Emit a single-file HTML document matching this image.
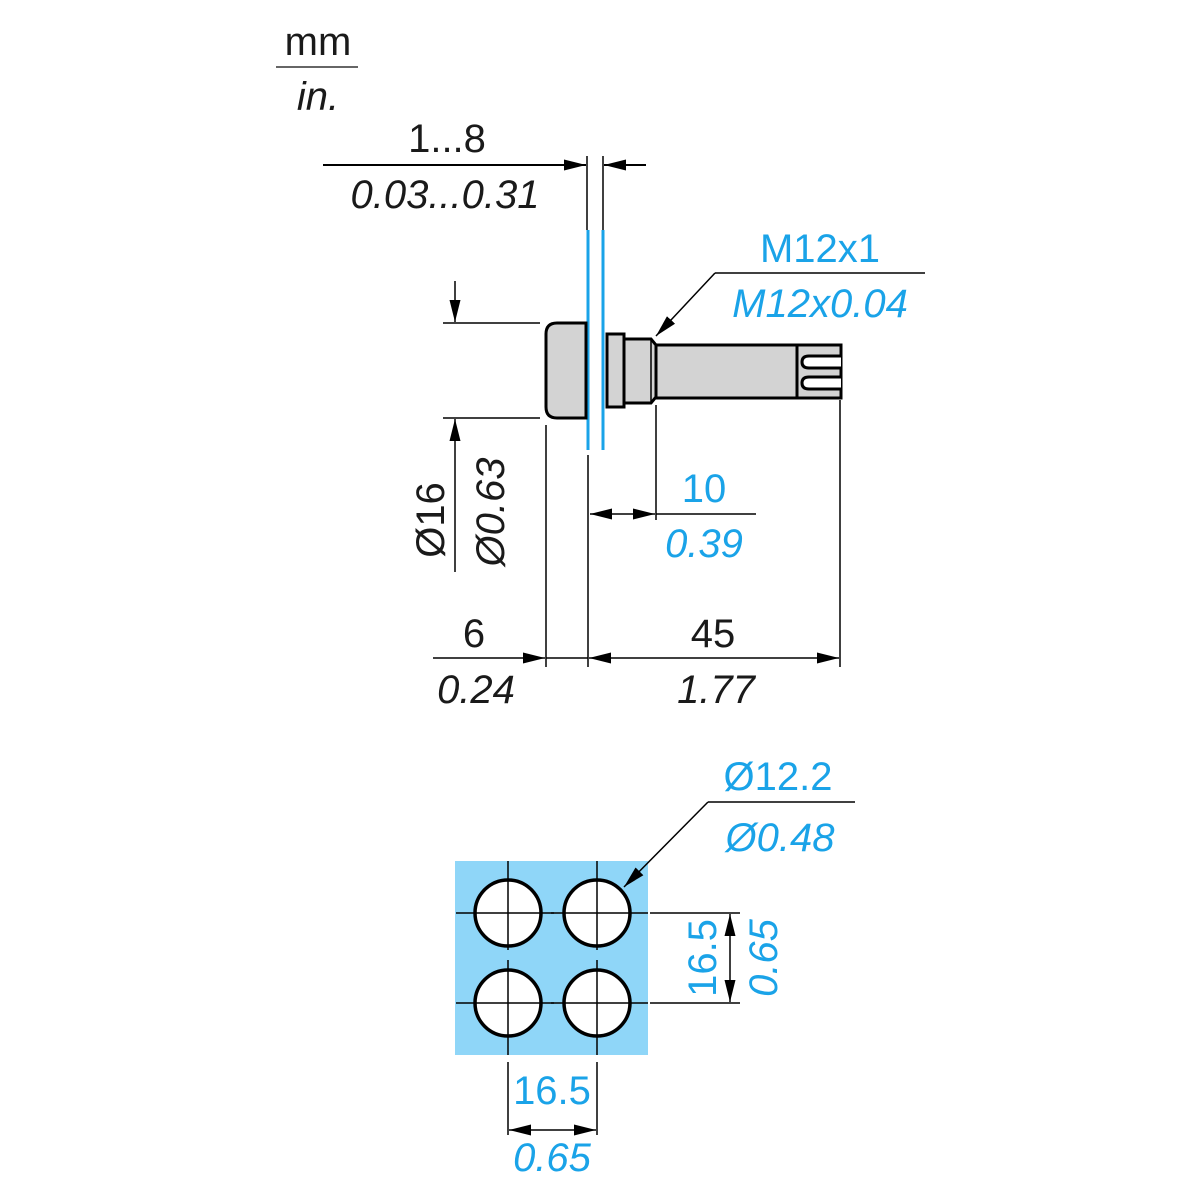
<!DOCTYPE html>
<html><head><meta charset="utf-8"><style>
html,body{margin:0;padding:0;background:#fff;}
svg{display:block;}
text{font-family:"Liberation Sans",Arial,sans-serif;font-size:40px;}
.k{fill:#1a1a1a}.b{fill:#1aa3e8}.i{font-style:italic}
</style></head><body>
<svg width="1200" height="1200" viewBox="0 0 1200 1200" xmlns="http://www.w3.org/2000/svg">
<defs>
<marker id="a" viewBox="0 0 22 11" refX="22" refY="5.5" markerWidth="22" markerHeight="11" markerUnits="userSpaceOnUse" orient="auto"><path d="M0,0L22,5.5L0,11z" fill="#000"/></marker>
</defs>
<text x="318" y="55" text-anchor="middle" class="k">mm</text>
<line x1="276" y1="67" x2="358" y2="67" stroke="#666" stroke-width="2"/>
<text x="318" y="110" text-anchor="middle" class="k i">in.</text>
<text x="447" y="152" text-anchor="middle" class="k">1...8</text>
<text x="445" y="208" text-anchor="middle" class="k i">0.03...0.31</text>
<line x1="323" y1="165" x2="586" y2="165" stroke="#000" stroke-width="2" marker-end="url(#a)"/>
<line x1="646" y1="165" x2="604" y2="165" stroke="#000" stroke-width="2" marker-end="url(#a)"/>
<line x1="587" y1="156" x2="587" y2="230" stroke="#000" stroke-width="1.5"/>
<line x1="603" y1="156" x2="603" y2="230" stroke="#000" stroke-width="1.5"/>
<line x1="588" y1="230" x2="588" y2="450" stroke="#1aa3e8" stroke-width="3"/>
<line x1="603" y1="230" x2="603" y2="450" stroke="#1aa3e8" stroke-width="3"/>
<path d="M586,323 L557,323 Q546,323 546,334 L546,407 Q546,418 557,418 L586,418 Z" fill="#d3d3d3" stroke="#000" stroke-width="3"/>
<rect x="607" y="334" width="17" height="73" fill="#d3d3d3" stroke="#000" stroke-width="3"/>
<path d="M624,339 L651,339 L656,345 L656,397 L651,403 L624,403 Z" fill="#d3d3d3" stroke="#000" stroke-width="3"/>
<line x1="651" y1="339" x2="651" y2="403" stroke="#000" stroke-width="1.5"/>
<rect x="656" y="345" width="185" height="53" fill="#d3d3d3" stroke="#000" stroke-width="3"/>
<line x1="797" y1="345" x2="797" y2="398" stroke="#000" stroke-width="3"/>
<path d="M841,356 L809,356 Q802,356 802,362 Q802,368 809,368 L841,368" fill="#fff" stroke="#000" stroke-width="3"/>
<path d="M841,377 L809,377 Q802,377 802,383 Q802,389 809,389 L841,389" fill="#fff" stroke="#000" stroke-width="3"/>
<text x="820" y="262" text-anchor="middle" class="b">M12x1</text>
<text x="820" y="317" text-anchor="middle" class="b i">M12x0.04</text>
<line x1="715" y1="273" x2="925" y2="273" stroke="#000" stroke-width="1.5"/>
<line x1="715" y1="273" x2="656" y2="336" stroke="#000" stroke-width="1.5" marker-end="url(#a)"/>
<line x1="443" y1="323" x2="540" y2="323" stroke="#000" stroke-width="1.5"/>
<line x1="443" y1="418" x2="540" y2="418" stroke="#000" stroke-width="1.5"/>
<line x1="455" y1="281" x2="455" y2="322" stroke="#000" stroke-width="1.5" marker-end="url(#a)"/>
<line x1="455" y1="572" x2="455" y2="419" stroke="#000" stroke-width="1.5" marker-end="url(#a)"/>
<text transform="translate(444,520) rotate(-90)" text-anchor="middle" class="k">Ø16</text>
<text transform="translate(504,512) rotate(-90)" text-anchor="middle" class="k i">Ø0.63</text>
<line x1="546" y1="425" x2="546" y2="667" stroke="#000" stroke-width="1.5"/>
<line x1="588" y1="455" x2="588" y2="667" stroke="#000" stroke-width="1.5"/>
<line x1="656" y1="405" x2="656" y2="520" stroke="#000" stroke-width="1.5"/>
<line x1="840" y1="400" x2="840" y2="667" stroke="#000" stroke-width="1.5"/>
<line x1="622" y1="514" x2="590" y2="514" stroke="#000" stroke-width="1.5" marker-end="url(#a)"/>
<line x1="622" y1="514" x2="655" y2="514" stroke="#000" stroke-width="1.5" marker-end="url(#a)"/>
<line x1="656" y1="514" x2="756" y2="514" stroke="#000" stroke-width="1.5"/>
<text x="704" y="502" text-anchor="middle" class="b">10</text>
<text x="704" y="557" text-anchor="middle" class="b i">0.39</text>
<line x1="433" y1="658" x2="545" y2="658" stroke="#000" stroke-width="1.5" marker-end="url(#a)"/>
<line x1="546" y1="658" x2="588" y2="658" stroke="#000" stroke-width="1.5"/>
<line x1="700" y1="658" x2="589" y2="658" stroke="#000" stroke-width="1.5" marker-end="url(#a)"/>
<line x1="700" y1="658" x2="839" y2="658" stroke="#000" stroke-width="1.5" marker-end="url(#a)"/>
<text x="474" y="647" text-anchor="middle" class="k">6</text>
<text x="476" y="703" text-anchor="middle" class="k i">0.24</text>
<text x="713" y="647" text-anchor="middle" class="k">45</text>
<text x="716" y="703" text-anchor="middle" class="k i">1.77</text>
<rect x="455" y="861" width="193" height="194" fill="#8fd6f8"/>
<g fill="#fff" stroke="#000" stroke-width="3.5">
<circle cx="508" cy="913" r="33"/><circle cx="597" cy="913" r="33"/>
<circle cx="508" cy="1003" r="33"/><circle cx="597" cy="1003" r="33"/>
</g>
<g stroke="#000" stroke-width="1.5">
<line x1="456" y1="913" x2="554" y2="913"/><line x1="551" y1="913" x2="648" y2="913"/>
<line x1="456" y1="1003" x2="554" y2="1003"/><line x1="551" y1="1003" x2="648" y2="1003"/>
<line x1="508" y1="861" x2="508" y2="950"/><line x1="508" y1="960" x2="508" y2="1055"/>
<line x1="597" y1="861" x2="597" y2="950"/><line x1="597" y1="960" x2="597" y2="1055"/>
<line x1="650" y1="913" x2="740" y2="913"/><line x1="650" y1="1003" x2="740" y2="1003"/>
<line x1="508" y1="1062" x2="508" y2="1135"/><line x1="597" y1="1062" x2="597" y2="1135"/>
</g>
<line x1="730" y1="958" x2="730" y2="914" stroke="#000" stroke-width="1.5" marker-end="url(#a)"/>
<line x1="730" y1="958" x2="730" y2="1002" stroke="#000" stroke-width="1.5" marker-end="url(#a)"/>
<line x1="552" y1="1130" x2="509" y2="1130" stroke="#000" stroke-width="1.5" marker-end="url(#a)"/>
<line x1="552" y1="1130" x2="596" y2="1130" stroke="#000" stroke-width="1.5" marker-end="url(#a)"/>
<text transform="translate(716,958) rotate(-90)" text-anchor="middle" class="b">16.5</text>
<text transform="translate(777,958) rotate(-90)" text-anchor="middle" class="b i">0.65</text>
<text x="552" y="1104" text-anchor="middle" class="b">16.5</text>
<text x="552" y="1171" text-anchor="middle" class="b i">0.65</text>
<text x="778" y="790" text-anchor="middle" class="b">Ø12.2</text>
<text x="780" y="851" text-anchor="middle" class="b i">Ø0.48</text>
<line x1="708" y1="802" x2="855" y2="802" stroke="#000" stroke-width="1.5"/>
<line x1="708" y1="802" x2="624" y2="887" stroke="#000" stroke-width="1.5" marker-end="url(#a)"/>
</svg>
</body></html>
